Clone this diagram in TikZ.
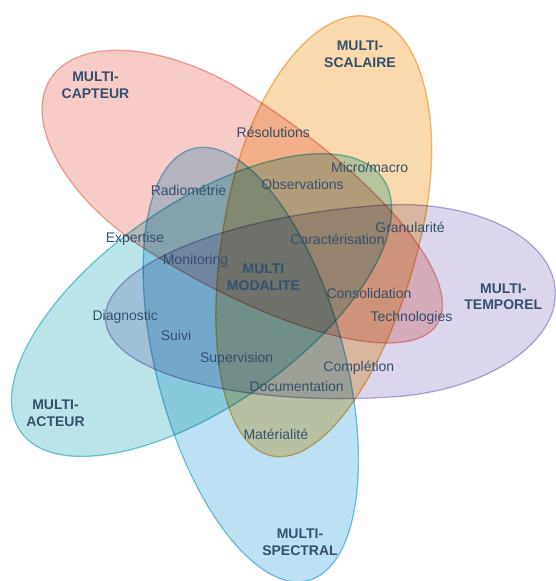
\documentclass[tikz,border=0pt]{standalone}
\usepackage{fontspec}
\setmainfont{Liberation Sans}
\definecolor{capteur}{HTML}{F7CCC8}
\definecolor{capteurline}{HTML}{F2AEA6}
\definecolor{scalaire}{HTML}{FADAAC}
\definecolor{scalaireline}{HTML}{F2C07E}
\definecolor{temporel}{HTML}{DBD6EB}
\definecolor{temporelline}{HTML}{BBB3DA}
\definecolor{spectral}{HTML}{BBE1F3}
\definecolor{spectralline}{HTML}{84C9EA}
\definecolor{acteur}{HTML}{BAE5E8}
\definecolor{acteurline}{HTML}{80D0D8}
\definecolor{txt}{HTML}{34506E}

\begin{document}
\begin{tikzpicture}[x=1pt,y=-1pt,
    petal/.style={line width=1.3pt},
    lbl/.style={text=txt,font=\fontsize{14}{16.7}\selectfont,anchor=base,inner sep=0pt},
    ttl/.style={text=txt,font=\fontsize{14}{16.7}\selectfont\bfseries,align=center,inner sep=0pt}]
\useasboundingbox (0,0) rectangle (555,581);
\begin{scope}[blend mode=multiply]
% multi-capteur
\draw[petal,draw=capteurline,fill=capteur,shift={(196.5,171.6)},rotate=-32.3]
  (0pt,93pt) arc[start angle=90,end angle=270,x radius=173pt,y radius=93pt]
  arc[start angle=270,end angle=450,x radius=285pt,y radius=93pt] -- cycle;
% multi-scalaire
\draw[petal,draw=scalaireline,fill=scalaire,shift={(326.3,212)},rotate=-102.8]
  (0pt,98pt) arc[start angle=90,end angle=270,x radius=200pt,y radius=98pt]
  arc[start angle=270,end angle=450,x radius=250pt,y radius=98pt] -- cycle;
% multi-temporel
\draw[petal,draw=temporelline,fill=temporel,shift={(387.7,301)},rotate=3.8]
  (0pt,96pt) arc[start angle=90,end angle=270,x radius=283pt,y radius=96pt]
  arc[start angle=270,end angle=450,x radius=168pt,y radius=96pt] -- cycle;
% multi-spectral
\draw[petal,draw=spectralline,fill=spectral,shift={(251,366)},rotate=-75]
  (0pt,94pt) arc[start angle=90,end angle=270,x radius=225pt,y radius=94pt]
  arc[start angle=270,end angle=450,x radius=222pt,y radius=94pt] -- cycle;
% multi-acteur
\draw[petal,draw=acteurline,fill=acteur,shift={(200.8,305.5)},rotate=35]
  (0pt,101pt) arc[start angle=90,end angle=270,x radius=220pt,y radius=101pt]
  arc[start angle=270,end angle=450,x radius=222pt,y radius=101pt] -- cycle;
\end{scope}

% titres
\node[ttl] (capteur) at (95.5,85.4) {MULTI-\\CAPTEUR};
\node[ttl] (scalaire) at (360,54.2) {MULTI-\\SCALAIRE};
\node[ttl] (temporel) at (503.3,296.7) {MULTI-\\TEMPOREL};
\node[ttl] (acteur) at (55.5,413.5) {MULTI-\\ACTEUR};
\node[ttl] (spectral) at (300,542.5) {MULTI-\\SPECTRAL};
\node[ttl] (modalite) at (263.5,277) {MULTI\\MODALITE};

% intersections
\node[lbl] (resolutions) at (273.3,137.3) {Résolutions};
\node[lbl] (micro) at (369.7,172) {Micro/macro};
\node[lbl] (radiometrie) at (188.5,195) {Radiométrie};
\node[lbl] (observations) at (302.5,189.3) {Observations};
\node[lbl] (granularite) at (410,232) {Granularité};
\node[lbl] (caracterisation) at (337.5,244) {Caractérisation};
\node[lbl] (expertise) at (135,242.7) {Expertise};
\node[lbl] (monitoring) at (195.5,264.3) {Monitoring};
\node[lbl] (consolidation) at (369,298.7) {Consolidation};
\node[lbl] (technologies) at (411.5,321) {Technologies};
\node[lbl] (diagnostic) at (125.3,320.7) {Diagnostic};
\node[lbl] (suivi) at (176,340.7) {Suivi};
\node[lbl] (supervision) at (236.7,362) {Supervision};
\node[lbl] (completion) at (358.8,371.7) {Complétion};
\node[lbl] (documentation) at (296.7,391) {Documentation};
\node[lbl] (materialite) at (275.8,439) {Matérialité};
\end{tikzpicture}
\end{document}
